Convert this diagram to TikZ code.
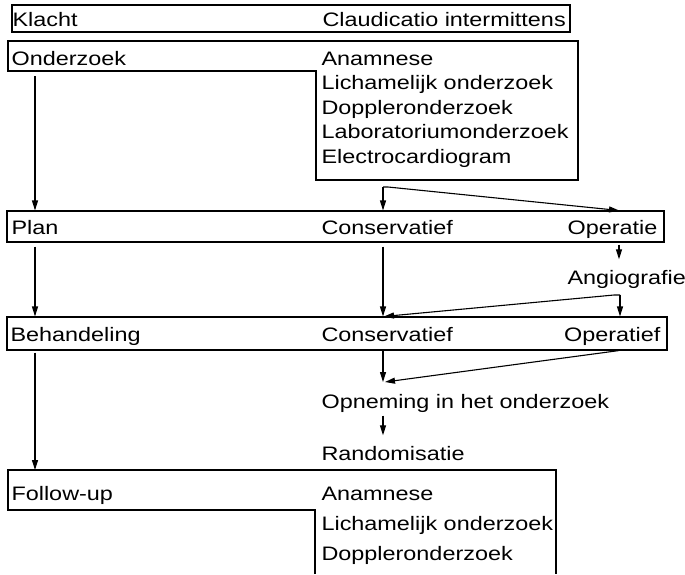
\documentclass[tikz,border=0pt]{standalone}
\usepackage{fontspec}
\setmainfont{Liberation Sans}[FakeStretch=1.2]
\usetikzlibrary{arrows.meta}

\tikzset{
  rowbox/.style={draw, inner sep=0pt},
  lbl/.style={anchor=base west, inner sep=0pt},
  rlbl/.style={anchor=base east, inner sep=0pt},
}

\begin{document}
\begin{tikzpicture}[x=1pt, y=-1pt, line width=1.1pt, >={Triangle[length=10pt,width=6pt]},
    font=\fontsize{19.5}{24.5}\selectfont]
  \useasboundingbox (0,0) rectangle (685,574);
  % columns of the arrows
  \coordinate (lcol) at (35,0);
  \coordinate (mcol) at (383,0);
  \coordinate (rcol) at (619,0);

  % boxes
  \node [rowbox, minimum width=558pt, minimum height=27pt] (klachtbox) at (291,18.5) {};
  \draw (8,41) -- (578,41) -- (578,180) -- (316,180) -- (316,71) -- (8,71) -- cycle;
  \coordinate (ondnotch) at (8,71);
  \node [rowbox, minimum width=657pt, minimum height=31pt] (planbox) at (335.5,226.5) {};
  \node [rowbox, minimum width=660pt, minimum height=33pt] (behbox) at (337,333.5) {};
  \draw (315,574) -- (315,510) -- (8,510) -- (8,470) -- (556,470) -- (556,574);
  \coordinate (futop) at (8,470);

  % texts
  \node [lbl] (klacht) at (12,26) {Klacht};
  \node [lbl] (claudicatio) at (322,26) {Claudicatio intermittens};
  \node [lbl] (onderzoek) at (11,65) {Onderzoek};
  \node [lbl] (anamnese) at (321,65) {Anamnese};
  \node [lbl] (lichamelijk) at (321,89.5) {Lichamelijk onderzoek};
  \node [lbl] (doppler) at (321,114) {Doppleronderzoek};
  \node [lbl] (laboratorium) at (321,138.5) {Laboratoriumonderzoek};
  \node [lbl] (ecg) at (321,163) {Electrocardiogram};

  \node [lbl] (plan) at (11,234) {Plan};
  \node [lbl] (planconserv) at (321,234) {Conservatief};
  \node [rlbl] (operatie) at (658,234) {Operatie};
  \node [lbl] (angiografie) at (567,284) {Angiografie};

  \node [lbl] (behandeling) at (10,341) {Behandeling};
  \node [lbl] (behconserv) at (321,341) {Conservatief};
  \node [rlbl] (operatief) at (661,341) {Operatief};

  \node [lbl] (opneming) at (321,408) {Opneming in het onderzoek};
  \node [lbl] (randomisatie) at (321,460) {Randomisatie};

  \node [lbl] (followup) at (11,500) {Follow-up};
  \node [lbl] (fuanamnese) at (321,500) {Anamnese};
  \node [lbl] (fulichamelijk) at (321,530) {Lichamelijk onderzoek};
  \node [lbl] (fudoppler) at (321,560) {Doppleronderzoek};

  % arrows
  \draw [->, shorten <=5pt] (ondnotch -| lcol) -- (planbox.north -| lcol);
  \coordinate (split1) at (383,187);
  \draw [->] (split1) -- (split1 |- planbox.north);
  \draw [->] (split1) -- ++(5,0) -- (planbox.north -| rcol);

  \draw [->, shorten <=4pt] (planbox.south -| lcol) -- (behbox.north -| lcol);
  \draw [->, shorten <=4pt] (planbox.south -| mcol) -- (behbox.north -| mcol);
  \draw [->, shorten <=2pt] (planbox.south -| rcol) -- (angiografie.north -| rcol) [shorten >=10pt];
  \coordinate (split2) at (620,295);
  \draw [->] (split2) -- (split2 |- behbox.north);
  \draw [->] (split2) -- ++(-6,0) -- ([xshift=1pt]behbox.north -| mcol);

  \coordinate (split3) at (383,382);
  \draw [->] (behbox.south -| mcol) -- (split3);
  \draw [->] (behbox.south -| rcol) -- ([xshift=2pt]split3);
  \draw [->, shorten <=3pt, shorten >=10pt] (opneming.south -| mcol) -- (randomisatie.north -| mcol);
  \draw [->, shorten <=2pt] (behbox.south -| lcol) -- (futop -| lcol);
\end{tikzpicture}
\end{document}
